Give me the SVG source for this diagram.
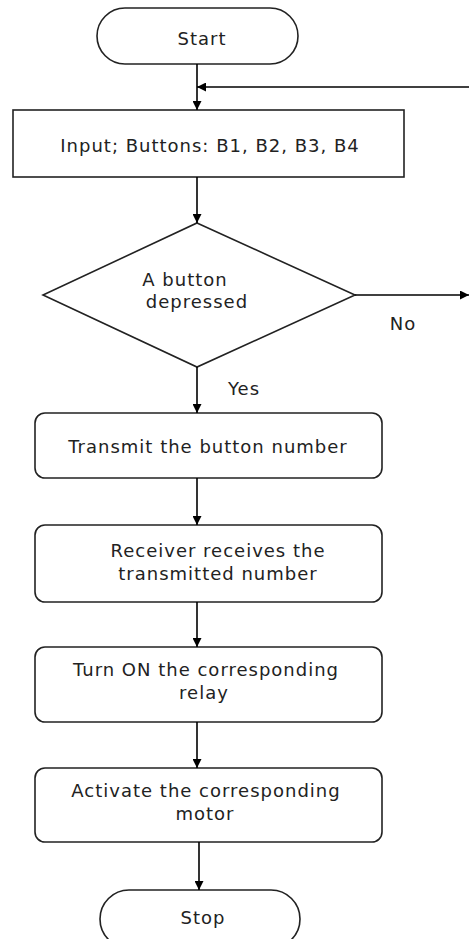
<svg xmlns="http://www.w3.org/2000/svg" width="469" height="939" viewBox="0 0 469 939">
<defs>
<marker id="ah" viewBox="0 0 10 10" refX="10" refY="5" markerWidth="9" markerHeight="9" markerUnits="userSpaceOnUse" orient="auto">
<path d="M0,0 L10,5 L0,10 z" fill="#000"/>
</marker>
<style>
.s{fill:#fff;stroke:#222;stroke-width:1.6}
.t{font-family:"DejaVu Sans","Open Sans",sans-serif;font-size:18px;letter-spacing:1px;fill:#222;text-anchor:middle}
.l{fill:none;stroke:#000;stroke-width:1.6}
</style>
</defs>
<rect width="469" height="939" fill="#fff"/>
<g id="start"><rect class="s" x="97" y="8" width="201" height="56" rx="28"/><text class="t" x="202" y="45">Start</text></g>
<g id="input"><rect class="s" x="13" y="110" width="391" height="67"/><text class="t" x="210" y="152">Input; Buttons: B1, B2, B3, B4</text></g>
<g id="decision"><polygon class="s" points="197,223 355,295 197,367 43,295"/><text class="t" x="185" y="286">A button</text><text class="t" x="197" y="308">depressed</text></g>
<g id="transmit"><rect class="s" x="35" y="413" width="347" height="65" rx="10"/><text class="t" x="208" y="453">Transmit the button number</text></g>
<g id="receive"><rect class="s" x="35" y="525" width="347" height="77" rx="10"/><text class="t" x="218" y="557">Receiver receives the</text><text class="t" x="218" y="580">transmitted number</text></g>
<g id="relay"><rect class="s" x="35" y="647" width="347" height="75" rx="10"/><text class="t" x="206" y="676">Turn ON the corresponding</text><text class="t" x="204" y="699">relay</text></g>
<g id="motor"><rect class="s" x="35" y="768" width="347" height="74" rx="10"/><text class="t" x="206" y="797">Activate the corresponding</text><text class="t" x="205" y="820">motor</text></g>
<g id="stop"><rect class="s" x="100" y="890" width="200" height="58" rx="29"/><text class="t" x="203" y="924">Stop</text></g>
<g id="connectors">
<line class="l" x1="197" y1="64" x2="197" y2="110" marker-end="url(#ah)"/>
<line class="l" x1="469" y1="87" x2="197" y2="87" marker-end="url(#ah)"/>
<line class="l" x1="197" y1="177" x2="197" y2="223" marker-end="url(#ah)"/>
<line class="l" x1="355" y1="295" x2="469" y2="295" marker-end="url(#ah)"/>
<line class="l" x1="197" y1="367" x2="197" y2="413" marker-end="url(#ah)"/>
<line class="l" x1="197" y1="478" x2="197" y2="525" marker-end="url(#ah)"/>
<line class="l" x1="197" y1="602" x2="197" y2="647" marker-end="url(#ah)"/>
<line class="l" x1="197" y1="722" x2="197" y2="768" marker-end="url(#ah)"/>
<line class="l" x1="199" y1="842" x2="199" y2="890" marker-end="url(#ah)"/>
<text class="t" x="403" y="330">No</text>
<text class="t" x="244" y="395">Yes</text>
</g>
</svg>
